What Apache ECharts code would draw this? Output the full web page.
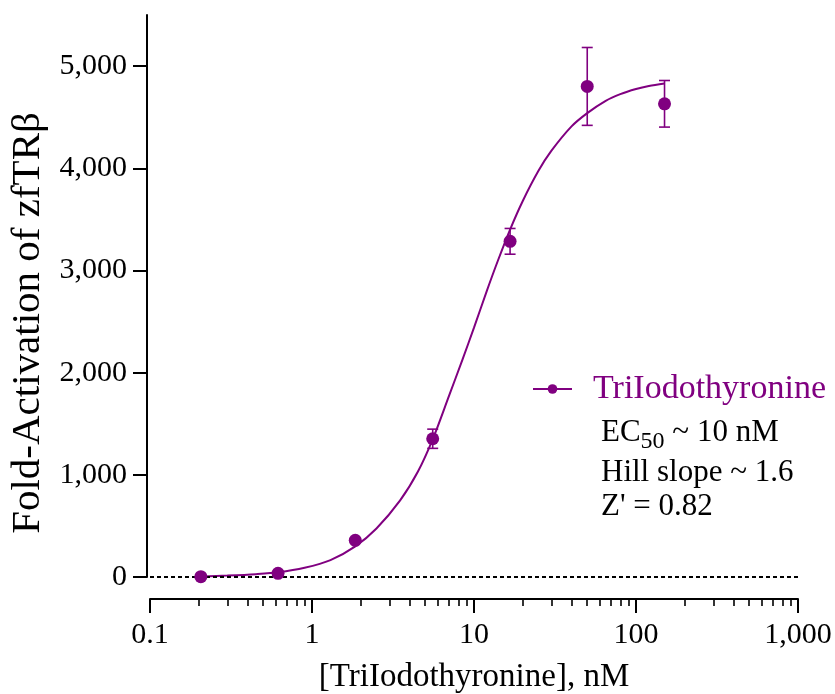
<!DOCTYPE html>
<html><head><meta charset="utf-8">
<script src="https://cdn.jsdelivr.net/npm/echarts@6/dist/echarts.min.js"></script>
<style>html,body{margin:0;padding:0;background:#fff}#c{width:835px;height:694px}</style>
</head><body><div id="c"></div>
<script>
// Measured points (mean ± SD)
const doseX = [0.206, 0.617, 1.85, 5.56, 16.7, 50, 150];
const meanY = [3, 36, 359, 1353, 3285, 4801, 4631];
const sdY   = [10, 12, 15, 94, 126, 381, 228];
// Fitted curve
const fitX = [0.21, 0.3, 0.45, 0.62, 0.9, 1.3, 1.85, 2.5, 3.5, 4.5, 5.6, 7, 8.5, 10, 12, 14, 16.7, 20, 25, 30, 40, 50, 65, 80, 100, 120, 150];
const fitY = [5, 14, 28, 46, 90, 165, 300, 475, 750, 1030, 1360, 1770, 2130, 2440, 2800, 3090, 3400, 3680, 3975, 4170, 4410, 4540, 4660, 4725, 4775, 4805, 4830];
// Axis ticks
const yTicks = [0, 1000, 2000, 3000, 4000, 5000];
const xMinorTicks = [0.2,0.3,0.4,0.5,0.6,0.7,0.8,0.9, 2,3,4,5,6,7,8,9, 20,30,40,50,60,70,80,90, 200,300,400,500,600,700,800,900];
const seriesName = 'TriIodothyronine';
const xTitle = '[TriIodothyronine], nM';
const yTitle = 'Fold-Activation of zfTRβ';

const PURPLE = '#800080';
const FONT = '"Liberation Serif", "Times New Roman", serif';

const chart = echarts.init(document.getElementById('c'), null, {renderer: 'canvas'});

const ctx = document.createElement('canvas').getContext('2d');
function tw(t, size) { ctx.font = size + 'px ' + FONT; return ctx.measureText(t).width; }

const annX = 601;
const ecW = tw('EC', 31);
const subW = tw('50', 24);

const option = {
  animation: false,
  backgroundColor: '#fff',
  grid: {left: 150, right: 37, top: 15, bottom: 117, containLabel: false},
  legend: {
    data: [seriesName], left: 532, top: 372, padding: 0,
    itemWidth: 39, itemHeight: 12,
    textStyle: {color: PURPLE, fontSize: 34, fontFamily: FONT, padding: [0, 0, 0, 16], lineHeight: 34}
  },
  xAxis: [{
    type: 'log', logBase: 10, min: 0.1, max: 1000, position: 'bottom', offset: 22,
    axisLine: {show: true, onZero: false, lineStyle: {color: '#000', width: 2}},
    axisTick: {show: true, length: 14, lineStyle: {color: '#000', width: 2}},
    axisLabel: {show: true, margin: 21, color: '#000', fontSize: 30, fontFamily: FONT,
      formatter: v => Number(Number(v).toPrecision(6)).toLocaleString('en-US')},
    splitLine: {show: false}, minorTick: {show: false}
  }, {
    type: 'log', logBase: 10, min: 0.1, max: 1000, position: 'bottom', offset: 22,
    axisLine: {show: false, onZero: false},
    axisTick: {show: true, length: 7, customValues: xMinorTicks, lineStyle: {color: '#000', width: 1.6}},
    axisLabel: {show: false}, splitLine: {show: false}
  }],
  yAxis: {
    type: 'value', min: 0, max: 5500, offset: 3,
    axisLine: {show: true, onZero: false, lineStyle: {color: '#000', width: 2}},
    axisTick: {show: true, length: 14, customValues: yTicks, lineStyle: {color: '#000', width: 2}},
    axisLabel: {show: true, margin: 20, color: '#000', fontSize: 30, fontFamily: FONT, customValues: yTicks,
      formatter: v => Number(v).toLocaleString('en-US')},
    splitLine: {show: false}
  },
  series: [{
    name: seriesName, type: 'line', xAxisIndex: 0,
    data: fitX.map((x, i) => [x, fitY[i]]),
    smooth: 0.3, symbol: 'circle', showSymbol: false, symbolSize: 10,
    lineStyle: {color: PURPLE, width: 2}, itemStyle: {color: PURPLE},
    z: 3,
    markLine: {
      silent: true, symbol: 'none', animation: false,
      label: {show: false},
      lineStyle: {color: '#000', type: [4, 3], width: 1.8},
      data: [{yAxis: 0}]
    }
  }, {
    name: 'errors', type: 'custom', xAxisIndex: 0,
    data: doseX.map((x, i) => [x, meanY[i], sdY[i]]),
    encode: {x: 0, y: 1},
    z: 4,
    renderItem: (params, api) => {
      const x = api.value(0), m = api.value(1), s = api.value(2);
      const top = api.coord([x, m + s]);
      const bot = api.coord([x, m - s]);
      const hw = 5.5;
      const st = {stroke: PURPLE, lineWidth: 1.6};
      return {type: 'group', children: [
        {type: 'line', shape: {x1: top[0], y1: top[1], x2: bot[0], y2: bot[1]}, style: st},
        {type: 'line', shape: {x1: top[0] - hw, y1: top[1], x2: top[0] + hw, y2: top[1]}, style: st},
        {type: 'line', shape: {x1: bot[0] - hw, y1: bot[1], x2: bot[0] + hw, y2: bot[1]}, style: st}
      ]};
    }
  }, {
    name: 'points', type: 'scatter', xAxisIndex: 0,
    data: doseX.map((x, i) => [x, meanY[i]]),
    symbol: 'circle', symbolSize: 13, itemStyle: {color: PURPLE, opacity: 1}, z: 5
  }],
  graphic: [
    {type: 'text', x: 28, y: 323, rotation: Math.PI / 2,
      style: {text: yTitle, fontSize: 41, fontFamily: FONT, fill: '#000', align: 'center', verticalAlign: 'middle'}},
    {type: 'text', x: 474, y: 677,
      style: {text: xTitle, fontSize: 33, fontFamily: FONT, fill: '#000', align: 'center', verticalAlign: 'middle'}},
    {type: 'text', x: annX, y: 432.5,
      style: {text: 'EC', fontSize: 31, fontFamily: FONT, fill: '#000', align: 'left', verticalAlign: 'middle'}},
    {type: 'text', x: annX + ecW, y: 442,
      style: {text: '50', fontSize: 24, fontFamily: FONT, fill: '#000', align: 'left', verticalAlign: 'middle'}},
    {type: 'text', x: annX + ecW + subW, y: 432.5,
      style: {text: ' ~ 10 nM', fontSize: 31, fontFamily: FONT, fill: '#000', align: 'left', verticalAlign: 'middle'}},
    {type: 'text', x: annX, y: 472.5,
      style: {text: 'Hill slope ~ 1.6', fontSize: 31, fontFamily: FONT, fill: '#000', align: 'left', verticalAlign: 'middle'}},
    {type: 'text', x: annX, y: 506.5,
      style: {text: "Z' = 0.82", fontSize: 31, fontFamily: FONT, fill: '#000', align: 'left', verticalAlign: 'middle'}}
  ]
};
chart.setOption(option);
</script>
</body></html>
